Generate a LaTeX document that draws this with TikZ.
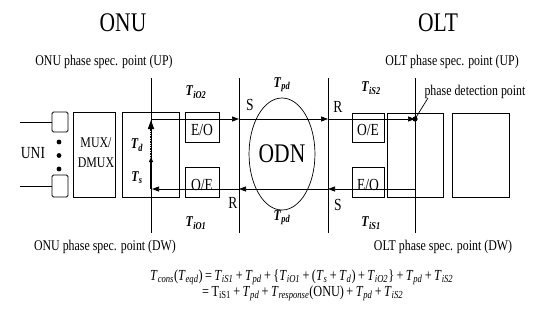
\documentclass[tikz,border=0pt]{standalone}
\usepackage{fontspec}
\setmainfont{Liberation Serif}[FakeStretch=0.8]
\usetikzlibrary{arrows.meta,shapes.geometric}
\newcommand\TL[1]{\textbf{\textit{T}}\textsubscript{\textbf{\textit{#1}}}}
\newcommand\TI[1]{\textit{T}\textsubscript{\textit{#1}}}
\tikzset{
  box/.style={draw,line width=0.8bp,inner sep=0pt},
  ln/.style={line width=0.7bp},
  arr/.style={ln,-{Triangle[length=7bp,width=5bp]}},
  head/.style={font=\fontsize{27}{27}\selectfont},
  lab/.style={font=\fontsize{14.9}{16}\selectfont,inner sep=0pt},
  tl/.style={font=\fontsize{15}{16}\selectfont,inner sep=0pt},
  sm/.style={font=\fontsize{17}{18}\selectfont,inner sep=0pt},
  frm/.style={font=\fontsize{15.4}{16}\selectfont,inner sep=0pt,anchor=base west},
}
\begin{document}
\begin{tikzpicture}[x=1bp,y=-1bp]
\useasboundingbox[fill=white] (0,0) rectangle (536,327);
% headers
\node[head] (honu) at (123,23) {ONU};
\node[head] (holt) at (438,23) {OLT};
\node[lab] (onuup) at (104,62) {ONU phase spec. point (UP)};
\node[lab] (oltup) at (452,62) {OLT phase spec. point (UP)};
\node[lab] (onudw) at (105,247) {ONU phase spec. point (DW)};
\node[lab] (oltdw) at (443,247) {OLT phase spec. point (DW)};
% boxes
\node[box,rounded corners=1.5bp,minimum width=16bp,minimum height=20bp] (u1) at (60,122) {};
\node[box,rounded corners=1.5bp,minimum width=16bp,minimum height=22bp] (u2) at (60,186) {};
\node[box,minimum width=42bp,minimum height=85bp] (mux) at (94,154.5) {};
\node[lab] (muxt) at (96,143) {MUX/};
\node[lab] (dmuxt) at (96,163) {DMUX};
\node[box,minimum width=57bp,minimum height=85bp] (onub) at (150.5,154.5) {};
\node[box,minimum width=34bp,minimum height=30bp] (eo1) at (202,127) {};
\node[sm] (eo1t) at (202,130) {E/O};
\node[box,minimum width=34bp,minimum height=30bp] (oe1) at (202,182) {};
\node[sm] (oe1t) at (202,185) {O/E};
\node[box,minimum width=32bp,minimum height=29bp] (oe2) at (368,127.5) {};
\node[sm] (oe2t) at (368,130) {O/E};
\node[box,minimum width=32bp,minimum height=30bp] (eo2) at (368,182) {};
\node[sm] (eo2t) at (368,185) {E/O};
\node[box,minimum width=56bp,minimum height=84bp] (olt1) at (415,155) {};
\node[box,minimum width=57bp,minimum height=84bp] (olt2) at (480.5,155) {};
\node[draw,ellipse,ln,minimum width=56bp,minimum height=112bp,inner sep=0pt,font=\fontsize{27}{27}\selectfont] (odn) at (282,154) {ODN};
% UNI
\node[sm] (uni) at (33,153) {UNI};
\coordinate (uni1) at (20,122);
\coordinate (uni2) at (20,186);
\draw[ln] (uni1) -- (u1.west);
\draw[ln] (uni2) -- (u2.west);
\fill (59,142) circle (2.4bp) (59,155.5) circle (2.4bp) (59,169) circle (2.4bp);
% vertical reference lines
\coordinate (v1t) at (151,78); \coordinate (v1b) at (151,233);
\coordinate (v2t) at (239,78); \coordinate (v2b) at (239,233);
\coordinate (v3t) at (328,78); \coordinate (v3b) at (328,233);
\coordinate (v4t) at (415,78); \coordinate (v4b) at (415,233);
\draw[ln] (v1t) -- (v1b);
\draw[ln] (v2t) -- (v2b);
\draw[ln] (v3t) -- (v3b);
\draw[ln] (v4t) -- (v4b);
% upstream line
\coordinate (a0) at (151,119);
\coordinate (a1) at (239,119);
\coordinate (a2) at (328,119);
\coordinate (a3) at (415,119);
\draw[arr] (a0) -- (a1);
\draw[arr] (a1) -- (a2);
\draw[arr] (a2) -- (a3);
\fill (a3) circle (2.6bp);
% downstream line
\coordinate (b0) at (415,189);
\coordinate (b1) at (328,189);
\coordinate (b2) at (239,189);
\coordinate (b3) at (152,189);
\draw[arr] (b0) -- (b1);
\draw[arr] (b1) -- (b2);
\draw[arr] (b2) -- (b3);
% internal ONU delay arrows
\coordinate (m0) at (151,189);
\coordinate (m1) at (151,157);
\coordinate (m2) at (151,120);
\draw[line width=1.2bp,-{Triangle[length=5bp,width=4bp]}] (m0) -- (m1);
\draw[line width=1.4bp,densely dotted,-{Triangle[length=9bp,width=6bp]}] (m1) -- (m2);
\node[tl] (td) at (137,145) {\TL{d}};
\node[tl] (ts) at (137,178) {\TL{s}};
% phase detection point
\node[lab] (pdp) at (475,92) {phase detection point};
\coordinate (pdl) at (428,98);
\draw[ln] (pdl) -- (a3);
% delay labels
\node[tl] (tio2) at (196,92) {\TL{iO2}};
\node[tl] (tio1) at (196,223) {\TL{iO1}};
\node[tl] (tpd1) at (282,85) {\TL{pd}};
\node[tl] (tpd2) at (282,218) {\TL{pd}};
\node[tl] (tis2) at (371,88) {\TL{iS2}};
\node[tl] (tis1) at (371,223) {\TL{iS1}};
% S/R labels
\node[sm] (s1) at (250,105) {S};
\node[sm] (r1) at (233,203) {R};
\node[sm] (r2) at (338,107) {R};
\node[sm] (s2) at (338,205) {S};
% formula
\node[frm] (f1) at (150,280)
 {\TI{cons}(\TI{eqd})$\,$=$\,$\TI{iS1}$\,$+$\,$\TI{pd}$\,$+$\,$\{\TI{iO1}$\,$+$\,$(\TI{s}$\,$+$\,$\TI{d})$\,$+$\,$\TI{iO2}\}$\,$+$\,$\TI{pd}$\,$+$\,$\TI{iS2}};
\node[frm] (f2) at (202,296)
 {=$\,$T\textsubscript{iS1}$\,$+$\,$\TI{pd}$\,$+$\,$\TI{response}(ONU)$\,$+$\,$\TI{pd}$\,$+$\,$\TI{iS2}};
\end{tikzpicture}
\end{document}
